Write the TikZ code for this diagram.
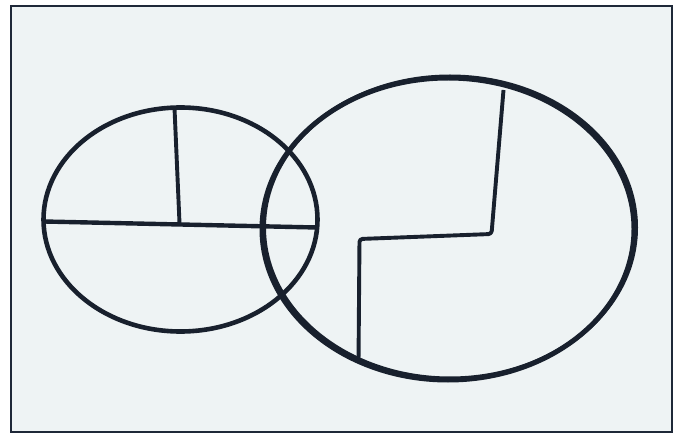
\documentclass[tikz,border=0pt]{standalone}
\usepackage{tikz}
\definecolor{ink}{HTML}{18202D}
\definecolor{paper}{HTML}{EEF3F4}
\definecolor{frame}{HTML}{1E2838}
\tikzset{
  outline/.style={draw=ink, line width=4.6pt},
  bar/.style={draw=ink, line width=4.4pt},
  thinbar/.style={draw=ink, line width=3.9pt, line join=round, rounded corners=3pt},
}
\begin{document}
\begin{tikzpicture}[x=1pt,y=-1pt]
\useasboundingbox (0,0) rectangle (682,438);
\fill[white] (0,0) rectangle (682,438);
\draw[frame, fill=paper, line width=2.6pt] (11,6) rectangle (672,432);
% left ellipse
\draw[outline] (180.5,219.5) ellipse [x radius=137, y radius=112];
\coordinate (hl) at (44,221.5);
\coordinate (hr) at (317,227.5);
\draw[bar] (hl) -- (hr);
\coordinate (vt) at (174.5,108);
\coordinate (vb) at (179.5,223);
\draw[draw=ink, line width=3.9pt] (vt) -- (vb);
% right ellipse (thicker on top/right)
\draw[outline, line width=5pt] (448,229) ellipse [x radius=186, y radius=151];
\draw[draw=ink, line width=4pt] (450,227.5) ellipse [x radius=186, y radius=151];
% step line
\coordinate (za) at (503.5,90);
\coordinate (zb) at (491.5,234);
\coordinate (zc) at (359.5,239);
\coordinate (zd) at (358.5,362);
\draw[thinbar] (za) -- (zb) -- (zc) -- (zd);
\end{tikzpicture}
\end{document}
